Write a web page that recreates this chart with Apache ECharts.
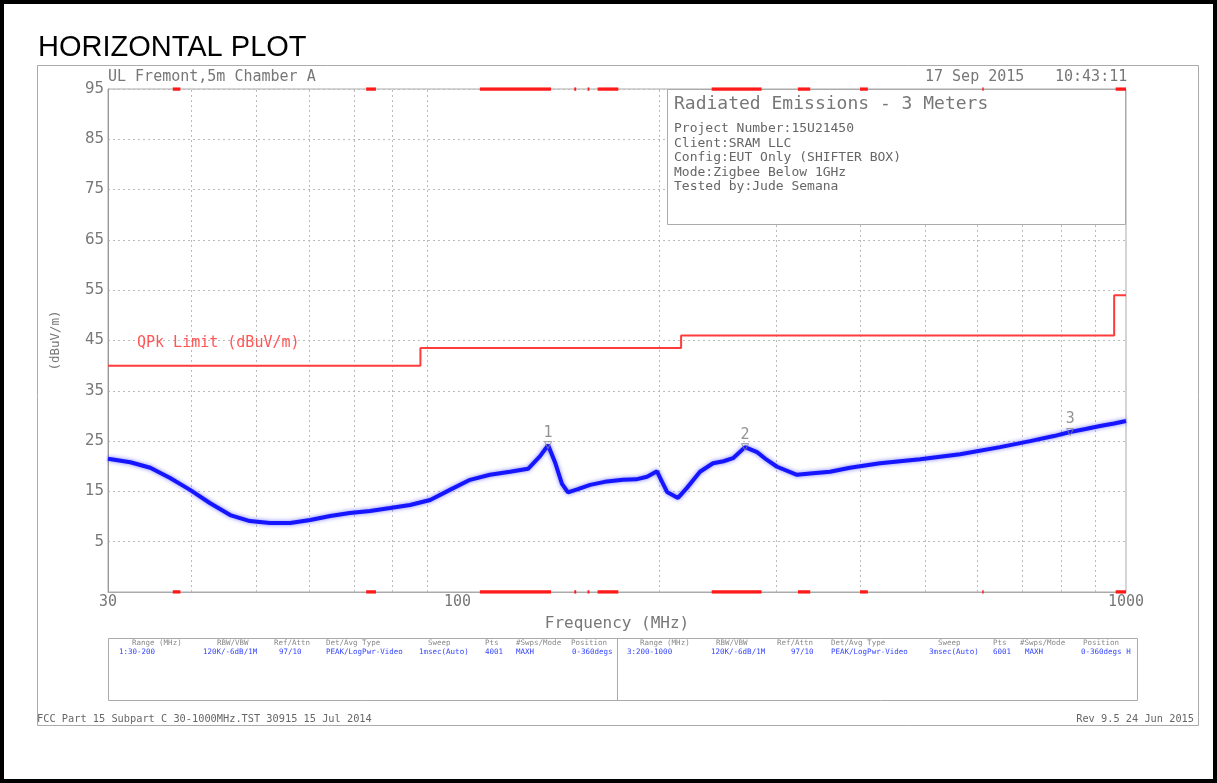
<!DOCTYPE html>
<html>
<head>
<meta charset="utf-8">
<title>Horizontal Plot</title>
<script src="https://cdn.jsdelivr.net/npm/echarts@6/dist/echarts.min.js"></script>
<style>
  html, body { margin: 0; padding: 0; background: #fff; }
  #chart { width: 1217px; height: 783px; }
</style>
</head>
<body>
<div id="chart"></div>
<script>
const freqMHz = [30, 32.4, 34.7, 37.1, 39.8, 42.6, 45.7, 48.9, 52.4, 56.2, 60.2, 64.5, 69.0, 74.0, 79.3, 84.9, 91.0,
  97.4, 104.4, 111.8, 119.8, 127.5, 132.9, 136.6, 139.9, 143.3, 146.3, 151, 157.9, 166, 176.8, 185, 192.1, 198.8,
  202.3, 205.8, 213.7, 220.4, 230.5, 241.1, 250, 258.3, 269.2, 280.6, 290, 300.6, 322, 340, 360.8, 386.5, 428.6,
  492, 564.7, 648, 718.6, 780, 825, 870, 914.5, 960, 1000];
const levelDb = [21.5, 20.8, 19.7, 17.7, 15.3, 12.7, 10.3, 9.1, 8.7, 8.7, 9.3, 10.1, 10.7, 11.1, 11.7, 12.3, 13.3,
  15.3, 17.3, 18.3, 18.9, 19.5, 22.0, 24.2, 20.8, 16.5, 14.8, 15.4, 16.3, 16.9, 17.3, 17.4, 17.9, 19.0,
  16.9, 14.9, 13.7, 15.7, 18.9, 20.6, 21.0, 21.6, 23.8, 22.8, 21.3, 19.9, 18.3, 18.6, 18.9, 19.7, 20.6,
  21.4, 22.4, 23.8, 25.0, 26.0, 26.8, 27.4, 28.0, 28.5, 29.0];

// QPk limit steps
const limitEdges = [30, 88, 216, 960, 1000];
const limitLevels = [40, 43.5, 46, 54];

// markers
const markerIds = ['1', '2', '3'];
const markerFreq = [136.6, 269.2, 825];
const markerLevel = [24.2, 23.8, 26.8];

// red scan-range bars on top and bottom edge
const bandStart = [37.5, 73, 108, 149.5, 156.5, 162, 240, 323, 400, 609.5, 965];
const bandEnd   = [38.5, 75.5, 138, 150.5, 157.5, 174, 285, 337, 411, 612.5, 1000];

const yTicks = [5, 15, 25, 35, 45, 55, 65, 75, 85, 95];
const xGrid = [40, 50, 60, 70, 80, 90, 200, 300, 400, 500, 600, 700, 800, 900];

const myChart = echarts.init(document.getElementById('chart'));

const mono = 'DejaVu Sans Mono';
const grey = '#777';

const traceData = freqMHz.map((f, i) => [f, levelDb[i]]);
const limitData = [];
limitLevels.forEach((lv, i) => {
  limitData.push([limitEdges[i], lv], [limitEdges[i + 1], lv]);
});
const markerData = markerFreq.map((f, i) => ({ value: [f, markerLevel[i]], name: markerIds[i] }));
const bandLines = [];
bandStart.forEach((s, i) => {
  bandLines.push({ coords: [[s, 95], [bandEnd[i], 95]] });
  bandLines.push({ coords: [[s, -5], [bandEnd[i], -5]] });
});

function txt(x, y, s, size, color, align) {
  return {
    type: 'text', x: x, y: y, z: 100,
    style: { text: s, fontFamily: mono, fontSize: size, fill: color || grey,
      verticalAlign: 'middle', align: align || 'left' }
  };
}

// settings table (two halves)
const headers = ['Range (MHz)', 'RBW/VBW', 'Ref/Attn', 'Det/Avg Type', 'Sweep', 'Pts', '#Swps/Mode', 'Position'];
const rowLeft = ['1:30-200', '120K/-6dB/1M', '97/10', 'PEAK/LogPwr-Video', '1msec(Auto)', '4001', 'MAXH', '0-360degs'];
const rowRight = ['3:200-1000', '120K/-6dB/1M', '97/10', 'PEAK/LogPwr-Video', '3msec(Auto)', '6001', 'MAXH', '0-360degs H'];
const colL = [119, 203, 279, 326, 419, 485, 516, 572];
const colR = [627, 711, 791, 831, 929, 993, 1025, 1081];
const headL = [132, 217, 274, 326, 428, 485, 516, 571];
const headR = [640, 716, 777, 831, 938, 993, 1020, 1083];

const tableTexts = [];
headers.forEach((h, i) => {
  tableTexts.push(txt(headL[i], 643, h, 7.5, '#888'));
  tableTexts.push(txt(headR[i], 643, h, 7.5, '#888'));
  tableTexts.push(txt(colL[i], 652, rowLeft[i], 7.5, '#3344ff'));
  tableTexts.push(txt(colR[i], 652, rowRight[i], 7.5, '#3344ff'));
});

const option = {
  animation: false,
  backgroundColor: '#fff',
  grid: {
    left: 108, top: 89, width: 1018, height: 503,
    show: true, borderColor: '#aaa', borderWidth: 1
  },
  xAxis: {
    type: 'log', logBase: 10, min: 30, max: 1000,
    name: 'Frequency (MHz)', nameLocation: 'middle', nameGap: 24,
    nameTextStyle: { fontFamily: mono, fontSize: 16, color: grey },
    axisLine: { onZero: false, lineStyle: { color: '#aaa' } },
    axisTick: { show: false },
    splitLine: { show: false },
    axisLabel: {
      fontFamily: mono, fontSize: 15, color: grey, margin: 3,
      showMinLabel: true, showMaxLabel: true,
      formatter: v => String(Math.round(v))
    }
  },
  yAxis: {
    type: 'value', min: -5, max: 95,
    name: '(dBuV/m)', nameLocation: 'middle', nameGap: 46, nameRotate: 90,
    nameTextStyle: { fontFamily: mono, fontSize: 12.5, color: grey },
    axisLine: { show: true, lineStyle: { color: '#999' } },
    axisTick: { show: false, customValues: yTicks },
    axisLabel: { customValues: yTicks, fontFamily: 'DejaVu Sans', fontSize: 15, color: grey, margin: 4 },
    splitLine: { show: true, lineStyle: { color: '#bbb', type: [2, 3] } }
  },
  graphic: [
    { type: 'rect', z: 0, shape: { x: 2, y: 2, width: 1213, height: 779 },
      style: { fill: null, stroke: '#000', lineWidth: 4 } },
    { type: 'rect', z: 0, shape: { x: 37.5, y: 65.5, width: 1161, height: 660 },
      style: { fill: null, stroke: '#aaa', lineWidth: 1 } },
    { type: 'text', x: 38, y: 48, z: 100,
      style: { text: 'HORIZONTAL PLOT', fontFamily: 'Liberation Sans', fontSize: 29, fill: '#000', verticalAlign: 'middle' } },
    txt(108, 77, 'UL Fremont,5m Chamber A', 15),
    txt(925, 77, '17 Sep 2015', 15),
    txt(1055, 77, '10:43:11', 15),
    { type: 'rect', z: 50, shape: { x: 667.5, y: 89.5, width: 458, height: 135 },
      style: { fill: '#fff', stroke: '#aaa', lineWidth: 1 } },
    txt(674, 104, 'Radiated Emissions - 3 Meters', 18),
    txt(674, 129, 'Project Number:15U21450', 13, '#666'),
    txt(674, 144, 'Client:SRAM LLC', 13, '#666'),
    txt(674, 158, 'Config:EUT Only (SHIFTER BOX)', 13, '#666'),
    txt(674, 173, 'Mode:Zigbee Below 1GHz', 13, '#666'),
    txt(674, 187, 'Tested by:Jude Semana', 13, '#666'),
    txt(137, 343, 'QPk Limit (dBuV/m)', 15, '#ff5555'),
    { type: 'rect', z: 50, shape: { x: 108.5, y: 638.5, width: 1029, height: 62 },
      style: { fill: '#fff', stroke: '#aaa', lineWidth: 1 } },
    { type: 'line', z: 50, shape: { x1: 617.5, y1: 638, x2: 617.5, y2: 700 },
      style: { stroke: '#aaa', lineWidth: 1 } },
    ...tableTexts,
    txt(37, 719, 'FCC Part 15 Subpart C 30-1000MHz.TST 30915 15 Jul 2014', 10.3, '#666'),
    txt(1194, 719, 'Rev 9.5 24 Jun 2015', 10.3, '#666', 'right')
  ],
  series: [
    {
      name: 'grid', type: 'line', data: [], z: 1,
      markLine: {
        silent: true, symbol: 'none', z: 1, label: { show: false },
        lineStyle: { color: '#bbb', type: [2, 3], width: 1 },
        data: xGrid.map(v => ({ xAxis: v }))
      }
    },
    {
      name: 'QPk Limit', type: 'line', data: limitData, z: 3,
      showSymbol: false, lineStyle: { color: '#ff3b3b', width: 2 }
    },
    {
      name: 'Trace', type: 'line', data: traceData, z: 4,
      showSymbol: false,
      lineStyle: { color: '#1515ff', width: 4, shadowColor: 'rgba(40,40,255,0.6)', shadowBlur: 4 }
    },
    {
      name: 'Markers', type: 'scatter', data: markerData, z: 5,
      symbol: 'triangle', symbolSize: 7, symbolRotate: 180,
      itemStyle: { color: 'rgba(255,255,255,0)', borderColor: '#888', borderWidth: 1 },
      label: { show: true, position: 'top', distance: 1, formatter: p => p.name,
        fontFamily: mono, fontSize: 15, color: '#777' }
    },
    {
      name: 'Scan bars', type: 'lines', coordinateSystem: 'cartesian2d', z: 200,
      data: bandLines, polyline: false,
      lineStyle: { color: '#ff1a1a', width: 3.5, opacity: 1 }
    }
  ]
};

myChart.setOption(option);
</script>
</body>
</html>
